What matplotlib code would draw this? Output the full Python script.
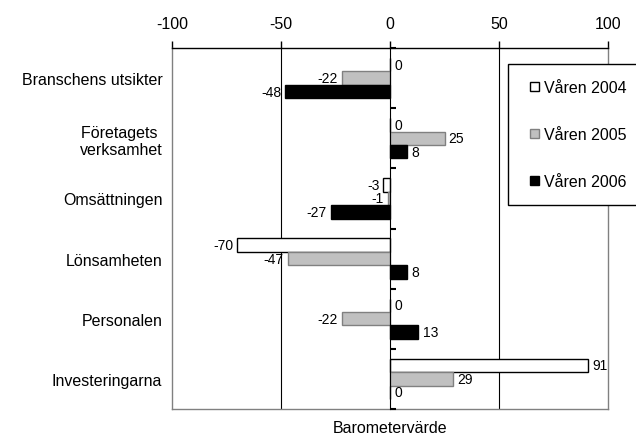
import matplotlib
matplotlib.use("Agg")
import matplotlib.pyplot as plt
import matplotlib.patches as mpatches
from matplotlib.legend_handler import HandlerPatch
import numpy as np

plt.rcParams['font.family'] = ['Liberation Sans', 'DejaVu Sans']
plt.rcParams['font.size'] = 11.5

categories = ["Branschens utsikter", "Företagets \nverksamhet", "Omsättningen",
              "Lönsamheten", "Personalen", "Investeringarna"]
series_names = ["Våren 2004", "Våren 2005", "Våren 2006"]
v2004 = [0, 0, -3, -70, 0, 91]
v2005 = [-22, 25, -1, -47, -22, 29]
v2006 = [-48, 8, -27, 8, 13, 0]
xticks = [-100, -50, 0, 50, 100]
xlabel = "Barometervärde"

faces = ["white", "#C0C0C0", "black"]
edges = ["black", "#808080", "black"]

fig = plt.figure(figsize=(6.36, 4.39), dpi=100)
ax = fig.add_axes([172/636, 1-410/439, (608-172)/636, (410-49)/439])

y = np.arange(len(categories))
h = 0.224
offsets = [-h, 0, h]
handles = []
for vals, name, fc, ec, off in zip([v2004, v2005, v2006], series_names, faces, edges, offsets):
    bars = ax.barh(y + off, vals, height=h, color=fc, edgecolor=ec, linewidth=1.0,
                   label=name, zorder=3)
    handles.append(bars.patches[0])
    for yi, v in zip(y, vals):
        if v < 0:
            ax.annotate(str(v), (v, yi + off), xytext=(-3, 0), textcoords='offset points',
                        ha='right', va='center', fontsize=10, zorder=5)
        else:
            ax.annotate(str(v), (v, yi + off), xytext=(3, 0), textcoords='offset points',
                        ha='left', va='center', fontsize=10, zorder=5)

ax.set_xlim(-100, 100)
ax.set_ylim(len(categories) - 0.5, -0.5)

# x axis on top
ax.xaxis.tick_top()
ax.set_xticks(xticks)
ax.set_xticklabels([str(t) for t in xticks])
ax.tick_params(axis='x', direction='out', length=5, width=1, pad=7, colors='black')
ax.xaxis.set_label_position('bottom')
ax.set_xlabel(xlabel, labelpad=8)

# y labels on the left
ax.set_yticks(y)
ax.set_yticklabels(categories, ha='right', multialignment='right')
ax.tick_params(axis='y', length=0, pad=7)

# gridlines at -50 and 50
for gx in [-50, 50]:
    ax.axvline(gx, color='black', linewidth=0.8, zorder=1)

for s in ['left', 'right', 'bottom']:
    ax.spines[s].set_color('#808080')
    ax.spines[s].set_linewidth(1)
ax.spines['top'].set_color('black')
ax.spines['top'].set_linewidth(1)

# zero axis with category-boundary ticks
sec = ax.secondary_yaxis(0.5)
sec.set_yticks(np.arange(len(categories) + 1) - 0.5)
sec.set_yticklabels([])
sec.tick_params(length=4, width=1.5, direction='out', colors='black')
sec.spines['left'].set_linewidth(2)
sec.spines['left'].set_color('black')
sec.set_zorder(4)


def square_patch(legend, orig_handle, xdescent, ydescent, width, height, fontsize):
    size = 0.58 * fontsize
    return mpatches.Rectangle((-xdescent + width - size, -ydescent + (height - size) / 2),
                              size, size)


leg = fig.legend(handles=handles, labels=series_names, loc='upper left',
                 bbox_to_anchor=(508/636, 1-65/439), frameon=True, fancybox=False,
                 edgecolor='black', framealpha=1, borderpad=1.0, labelspacing=2.0,
                 borderaxespad=0, handlelength=0.94, handleheight=0.7,
                 handletextpad=0.3, fontsize=11.5,
                 handler_map={mpatches.Rectangle: HandlerPatch(patch_func=square_patch)})
leg.get_frame().set_linewidth(1)

fig.savefig("out.png", dpi=100)
